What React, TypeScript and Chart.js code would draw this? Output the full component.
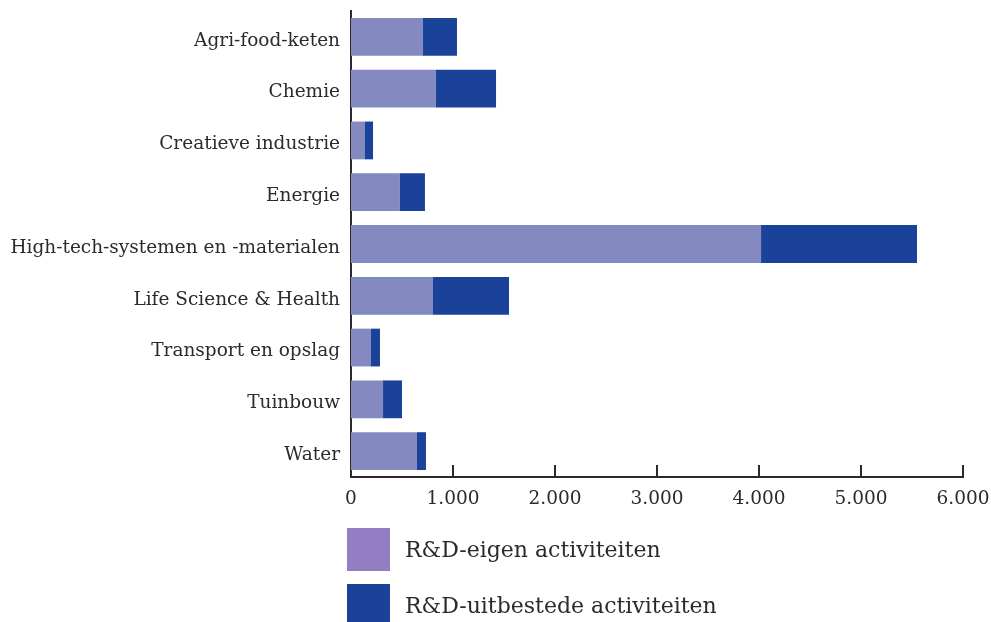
import React, { useEffect, useRef } from "react";
import { Chart, registerables } from "chart.js";

Chart.register(...registerables);

const categories = [
  "Agri-food-keten",
  "Chemie",
  "Creatieve industrie",
  "Energie",
  "High-tech-systemen en -materialen",
  "Life Science & Health",
  "Transport en opslag",
  "Tuinbouw",
  "Water",
];
const eigenValues = [706, 833, 137, 480, 4020, 804, 196, 314, 647];
const uitbesteedValues = [333, 589, 79, 245, 1529, 745, 88, 186, 88];
const seriesLabels = ["R&D-eigen activiteiten", "R&D-uitbestede activiteiten"];
const barColors = ["#8489c0", "#1a4299"];
const legendColors = ["#957dc3", "#1a4299"];
const xTicks = [0, 1000, 2000, 3000, 4000, 5000, 6000];

const FONT = "'DejaVu Serif', serif";
const TEXT = "#2b2b2b";

const fmtDots = (v: number) =>
  String(v).replace(/\B(?=(\d{3})+(?!\d))/g, ".");

const innerTicks = {
  id: "innerTicks",
  afterDraw(chart: any) {
    const x = chart.scales.x;
    const ctx = chart.ctx;
    const bottom = chart.chartArea.bottom;
    ctx.save();
    ctx.strokeStyle = TEXT;
    ctx.lineWidth = 2;
    xTicks.forEach((v) => {
      if (v === 0) return;
      const px = Math.round(x.getPixelForValue(v));
      ctx.beginPath();
      ctx.moveTo(px, bottom);
      ctx.lineTo(px, bottom - 12);
      ctx.stroke();
    });
    ctx.restore();
  },
};

const customLegend = {
  id: "customLegend",
  afterDraw(chart: any) {
    const ctx = chart.ctx;
    const left = 347;
    let top = chart.chartArea.bottom + 51;
    ctx.save();
    ctx.font = `22px ${FONT}`;
    ctx.textBaseline = "middle";
    ctx.textAlign = "left";
    chart.data.datasets.forEach((ds: any, i: number) => {
      ctx.fillStyle = legendColors[i];
      ctx.fillRect(left, top, 43, 43);
      ctx.fillStyle = TEXT;
      ctx.fillText(ds.label, left + 58, top + 23);
      top += 56;
    });
    ctx.restore();
  },
};

export default function App() {
  const ref = useRef<HTMLCanvasElement | null>(null);
  useEffect(() => {
    document.body.style.margin = "0";
    if (!ref.current) return;
    const chart = new Chart(ref.current, {
      type: "bar",
      data: {
        labels: categories,
        datasets: [
          {
            label: seriesLabels[0],
            data: eigenValues,
            backgroundColor: barColors[0],
            barPercentage: 0.73,
            categoryPercentage: 1,
          },
          {
            label: seriesLabels[1],
            data: uitbesteedValues,
            backgroundColor: barColors[1],
            barPercentage: 0.73,
            categoryPercentage: 1,
          },
        ],
      },
      options: {
        indexAxis: "y",
        animation: false,
        responsive: false,
        maintainAspectRatio: false,
        layout: { padding: { top: 11, right: 28, left: 0, bottom: 0 } },
        plugins: {
          legend: { display: false },
          tooltip: { enabled: false },
        },
        scales: {
          x: {
            stacked: true,
            min: 0,
            max: 6000,
            afterBuildTicks: (scale: any) => {
              scale.ticks = xTicks.map((v) => ({ value: v }));
            },
            afterFit: (scale: any) => {
              scale.height = 145;
              scale.paddingLeft = 0;
              scale.paddingRight = 0;
              scale.paddingTop = 0;
              scale.paddingBottom = 0;
            },
            grid: { display: false, drawTicks: false },
            border: { display: true, color: TEXT, width: 2 },
            ticks: {
              color: TEXT,
              font: { family: FONT, size: 18.5 },
              padding: 11,
              maxRotation: 0,
              callback: (v: any) => fmtDots(Number(v)),
            },
          },
          y: {
            stacked: true,
            afterFit: (scale: any) => {
              scale.width = 351;
              scale.paddingTop = 0;
              scale.paddingBottom = 0;
              scale.paddingLeft = 0;
              scale.paddingRight = 0;
            },
            grid: { display: false, drawTicks: false },
            border: { display: true, color: TEXT, width: 2 },
            ticks: {
              color: TEXT,
              font: { family: FONT, size: 18.5 },
              padding: 11,
              labelOffset: 4,
            },
          },
        },
      },
      plugins: [innerTicks, customLegend],
    });
    return () => chart.destroy();
  }, []);
  return <canvas ref={ref} width={991} height={622} style={{ display: "block" }} />;
}
